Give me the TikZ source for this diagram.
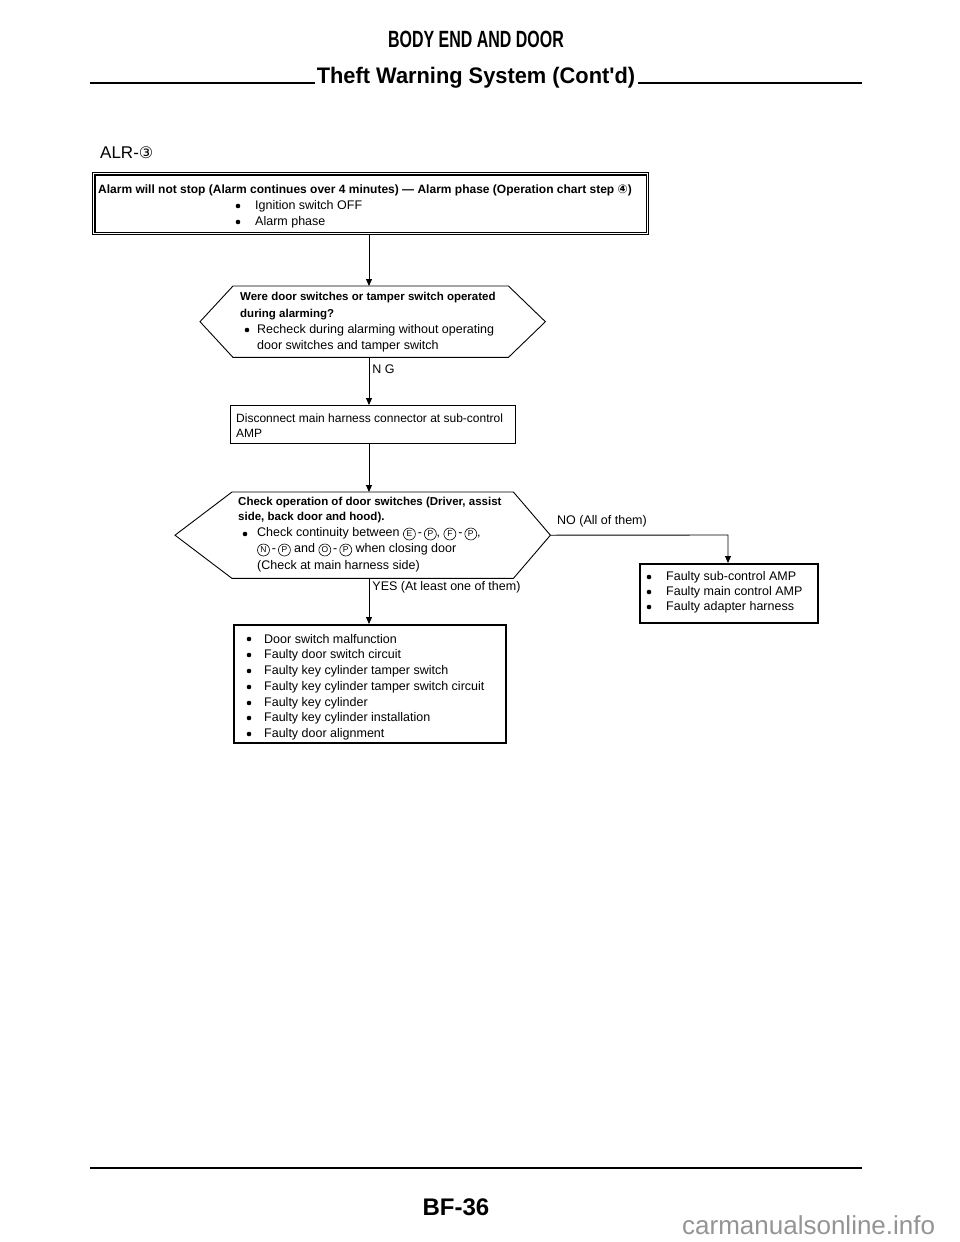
\documentclass[tikz,border=0pt]{standalone}
\usepackage{fontspec}
\setmainfont{Liberation Sans}
\newfontfamily\hdr[FakeStretch=0.68]{Liberation Sans}
\newfontfamily\hdrb[FakeStretch=0.97]{Liberation Sans}
\newfontfamily\sym{DejaVu Sans}
\usetikzlibrary{arrows.meta,calc}
\newcommand{\cl}[1]{\tikz[baseline=(cc.base)]\node[circle,draw,line width=0.6pt,inner sep=0pt,minimum size=12pt,font=\fontsize{8.5}{8.5}\selectfont] (cc) {#1};}
\newcommand{\cd}[1]{{\sym\fontsize{12}{12}\selectfont #1}}
\tikzset{
  box/.style={draw, line width=1.1pt, inner sep=0pt},
  hbox/.style={draw, line width=1.8pt, inner sep=0pt},
  body/.style={inner sep=0pt},
  hex/.style={line width=0.9pt, line join=miter},
  txt/.style={anchor=west, inner sep=0pt, font=\fontsize{12.5}{14}\selectfont},
  btxt/.style={anchor=west, inner sep=0pt, font=\fontsize{11.5}{14}\selectfont\bfseries},
  dot/.style={circle, fill, inner sep=0pt, minimum size=4.6pt},
  arr/.style={line width=0.9pt, -{Triangle[length=7pt,width=6pt]}},
  rule/.style={line width=1.6pt},
}
\begin{document}
\begin{tikzpicture}[x=1pt,y=-1pt]
\useasboundingbox (0,0) rectangle (960,1242);
% header
\node[inner sep=0pt, font=\hdr\fontsize{23.5}{23.5}\selectfont\bfseries] (title) at (476,39) {BODY END AND DOOR};
\node[inner sep=0pt, font=\hdrb\fontsize{22.5}{22.5}\selectfont\bfseries, anchor=base] (sub) at (476,83) {Theft Warning System (Cont'd)};
\draw[rule] (90,83) -- ($(sub.base west)+(-2,0)$);
\draw[rule] ($(sub.base east)+(3,0)$) -- (862,83);
\node[anchor=west, inner sep=0pt, font=\fontsize{17}{17}\selectfont] (alr) at (100,153) {ALR-{\sym\fontsize{16}{16}\selectfont ③}};
\coordinate (col) at (369,0);
% top box
\node[box, anchor=north west, minimum width=556, minimum height=62] (top) at (92,172) {};
\draw[line width=1.1pt] ($(top.north west)+(3,3)$) rectangle ($(top.south east)+(-3,-3)$);
\node[anchor=west, inner sep=0pt, font=\fontsize{12}{14}\selectfont\bfseries] (t1) at (98,190) {Alarm will not stop (Alarm continues over 4 minutes) --- Alarm phase (Operation chart step \cd{④})};
\node[dot] (t2b) at (238,206) {};
\node[txt] (t2) at (255,206) {Ignition switch OFF};
\node[dot] (t3b) at (238,222) {};
\node[txt] (t3) at (255,222) {Alarm phase};
% decision 1
\node[body, anchor=north west, minimum width=275, minimum height=71] (d1) at (233,286) {};
\draw[hex] (d1.north west) -- (d1.north east) -- ($(d1.east)+(37,0)$) -- (d1.south east) -- (d1.south west) -- ($(d1.west)+(-33,0)$) -- cycle;
\node[btxt] (d1a) at (240,298) {Were door switches or tamper switch operated};
\node[btxt] (d1b) at (240,315) {during alarming?};
\node[dot] (d1cb) at (247,330) {};
\node[txt] (d1c) at (257,330) {Recheck during alarming without operating};
\node[txt] (d1d) at (257,346) {door switches and tamper switch};
% box 2
\node[box, anchor=north west, minimum width=285, minimum height=38] (b2) at (230,405) {};
\node[anchor=west, inner sep=0pt, font=\fontsize{12}{14}\selectfont] (b2a) at (236,418) {Disconnect main harness connector at sub-control};
\node[anchor=west, inner sep=0pt, font=\fontsize{12}{14}\selectfont] (b2b) at (236,433) {AMP};
% decision 2
\node[body, anchor=north west, minimum width=281, minimum height=86] (d2) at (232,492) {};
\draw[hex] (d2.north west) -- (d2.north east) -- ($(d2.east)+(37,0)$) coordinate (d2r) -- (d2.south east) -- (d2.south west) -- ($(d2.west)+(-57,0)$) -- cycle;
\node[btxt] (d2a) at (238,503) {Check operation of door switches (Driver, assist};
\node[btxt] (d2b) at (238,518) {side, back door and hood).};
\node[dot] (d2cb) at (245,534) {};
\node[txt] (d2c) at (257,534) {Check continuity between \cl{E}\,-\,\cl{P}, \cl{F}\,-\,\cl{P},};
\node[txt] (d2d) at (257,550) {\cl{N}\,-\,\cl{P} and \cl{O}\,-\,\cl{P} when closing door};
\node[txt] (d2e) at (257,566) {(Check at main harness side)};
% box 3
\node[hbox, anchor=north west, minimum width=178, minimum height=59] (b3) at (639,563) {};
\node[dot] (b3ab) at (649,577) {};
\node[txt] (b3a) at (666,577) {Faulty sub-control AMP};
\node[dot] (b3bb) at (649,592) {};
\node[txt] (b3b) at (666,592) {Faulty main control AMP};
\node[dot] (b3cb) at (649,607) {};
\node[txt] (b3c) at (666,607) {Faulty adapter harness};
% box 4
\node[hbox, anchor=north west, minimum width=272, minimum height=118] (b4) at (233,624) {};
\foreach \yy/\tt [count=\i] in {639/Door switch malfunction,655/Faulty door switch circuit,671/Faulty key cylinder tamper switch,687/Faulty key cylinder tamper switch circuit,703/Faulty key cylinder,718/Faulty key cylinder installation,734/Faulty door alignment}{
  \node[dot] (b4b\i) at (249,\yy) {};
  \node[txt] (b4t\i) at (264,\yy) {\tt};
}
% connectors
\draw[arr] (top.south -| col) -- (d1.north -| col);
\draw[arr] (d1.south -| col) -- node[pos=0.25, anchor=west, inner sep=0pt, xshift=3pt, font=\fontsize{12.5}{14}\selectfont] (ng) {N G} (b2.north -| col);
\draw[arr] (b2.south -| col) -- (d2.north -| col);
\draw[arr] (d2.south -| col) -- node[pos=0.2, anchor=west, inner sep=0pt, xshift=3pt, font=\fontsize{12.5}{14}\selectfont] (yes) {YES (At least one of them)} (b4.north -| col);
\coordinate (nocorner) at (728,535);
\draw[arr] (d2r) -- (nocorner) -- (b3.north -| nocorner);
\node[txt] (no) at (557,521) {NO (All of them)};
% footer
\draw[rule] (90,1168) -- (862,1168);
\node[inner sep=0pt, font=\fontsize{24}{24}\selectfont\bfseries] (pg) at (456,1207) {BF-36};
\node[anchor=west, inner sep=0pt, text=black!42, font=\fontsize{26}{26}\selectfont] (wm) at (682,1225) {carmanualsonline.info};
\end{tikzpicture}
\end{document}
